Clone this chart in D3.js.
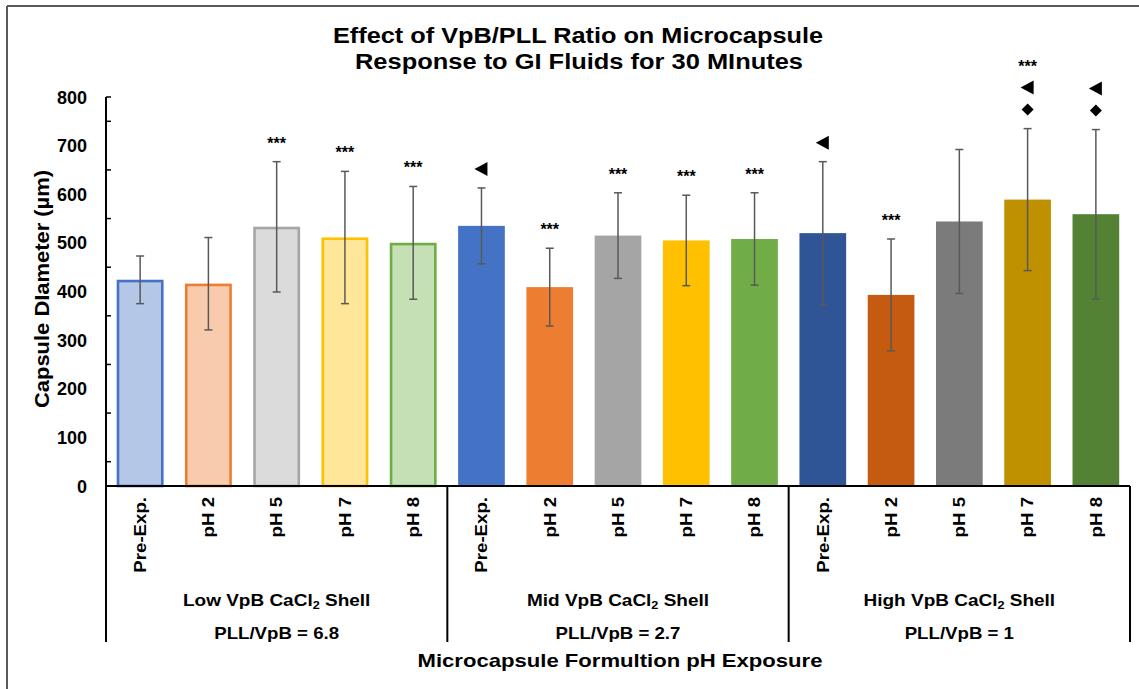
<!DOCTYPE html>
<html lang="en">
<head>
<meta charset="UTF-8"/>
<title>Effect of VpB/PLL Ratio on Microcapsule Response</title>
<script src="https://d3js.org/d3.v7.min.js"></script>
<style>
    body { margin: 0; background: #ffffff; }
    text { font-family: "Liberation Sans", Arial, sans-serif; font-weight: bold; fill: #000; }
</style>
</head>
<body>
<script>
    // values
    var categories = ["Pre-Exp.", "pH 2", "pH 5", "pH 7", "pH 8",
                      "Pre-Exp.", "pH 2", "pH 5", "pH 7", "pH 8",
                      "Pre-Exp.", "pH 2", "pH 5", "pH 7", "pH 8"];
    var groupNames = ["Low VpB CaCl", "Mid VpB CaCl", "High VpB CaCl"];
    var groupRatios = ["PLL/VpB = 6.8", "PLL/VpB = 2.7", "PLL/VpB = 1"];
    var means = [424, 416, 533, 511, 500,
                 535, 409, 515, 505, 508,
                 520, 393, 544, 589, 559];
    var sd = [49, 95, 134, 136, 116,
              78, 80, 88, 93, 95,
              147, 115, 148, 146, 174];
    var sig = [[], [], ["***"], ["***"], ["***"],
               ["tri"], ["***"], ["***"], ["***"], ["***"],
               ["tri"], ["***"], [], ["dia", "tri", "***"], ["dia", "tri"]];
    var yTicks = [0, 100, 200, 300, 400, 500, 600, 700, 800];

    var fills = ["#b4c7e7", "#f8cbad", "#dbdbdb", "#ffe699", "#c5e0b4",
                 "#4472c4", "#ed7d31", "#a5a5a5", "#ffc000", "#70ad47",
                 "#2f5597", "#c55a11", "#7b7b7b", "#bf9000", "#548235"];
    var strokes = ["#4472c4", "#ed7d31", "#a5a5a5", "#ffc000", "#70ad47"];

    var w = 1139, h = 689;
    var x0 = 106, x1 = 1130, yTop = 97, yBase = 486, boxBottom = 642;

    var svg = d3.select("body").append("svg")
        .attr("width", w)
        .attr("height", h);

    // stretch text a bit wider, the source font runs wider than Arial
    function stretch(sel, k) {
        sel.each(function() {
            var len = this.getComputedTextLength();
            d3.select(this).attr("textLength", len * k).attr("lengthAdjust", "spacingAndGlyphs");
        });
    }

    // outer frame
    svg.append("line").attr("x1", 7).attr("x2", w).attr("y1", 6).attr("y2", 6)
        .attr("stroke", "#595959").attr("stroke-width", 2);
    svg.append("line").attr("x1", 7).attr("x2", 7).attr("y1", 6).attr("y2", h)
        .attr("stroke", "#595959").attr("stroke-width", 2);

    var xScale = d3.scaleBand()
        .domain(d3.range(categories.length))
        .range([x0, x1])
        .paddingInner(0.316)
        .paddingOuter(0.158);

    var yScale = d3.scaleLinear()
        .domain([0, 800])
        .range([yBase, yTop]);

    // title
    var title = svg.append("g");
    title.append("text").attr("x", 578).attr("y", 43).attr("text-anchor", "middle")
        .style("font-size", "21.5px").text("Effect of VpB/PLL Ratio on Microcapsule")
        .attr("textLength", 490).attr("lengthAdjust", "spacingAndGlyphs");
    title.append("text").attr("x", 579).attr("y", 69).attr("text-anchor", "middle")
        .style("font-size", "21.5px").text("Response to GI Fluids for 30 MInutes")
        .attr("textLength", 448).attr("lengthAdjust", "spacingAndGlyphs");

    // bars
    svg.selectAll("rect.bar")
        .data(means)
        .enter()
        .append("rect")
        .attr("class", "bar")
        .attr("x", function(d, i) { return xScale(i) + (i < 5 ? 1.2 : 0); })
        .attr("width", function(d, i) { return xScale.bandwidth() - (i < 5 ? 2.4 : 0); })
        .attr("y", function(d, i) { return yScale(d) + (i < 5 ? 1.2 : 0); })
        .attr("height", function(d, i) { return yBase - yScale(d) - (i < 5 ? 1.2 : 0); })
        .attr("fill", function(d, i) { return fills[i]; })
        .attr("stroke", function(d, i) { return i < 5 ? strokes[i] : "none"; })
        .attr("stroke-width", 2.6);

    // error bars
    var err = svg.append("g").attr("stroke", "#595959").attr("stroke-width", 1.5);
    means.forEach(function(m, i) {
        var cx = xScale(i) + xScale.bandwidth() / 2;
        err.append("line").attr("x1", cx).attr("x2", cx)
            .attr("y1", yScale(m + sd[i])).attr("y2", yScale(m - sd[i]));
        [m + sd[i], m - sd[i]].forEach(function(v) {
            err.append("line").attr("x1", cx - 4).attr("x2", cx + 4)
                .attr("y1", yScale(v)).attr("y2", yScale(v));
        });
    });

    // significance markers, stacked upward from the error bar top
    means.forEach(function(m, i) {
        var cx = xScale(i) + xScale.bandwidth() / 2;
        var yy = yScale(m + sd[i]) - 19;
        sig[i].forEach(function(s) {
            if (s === "***") {
                svg.append("text").attr("x", cx).attr("y", yy + 6)
                    .attr("text-anchor", "middle").style("font-size", "16px").text("***");
            } else if (s === "tri") {
                svg.append("path").attr("d", "M-7,0L6,-7L6,7Z")
                    .attr("transform", "translate(" + cx + "," + yy + ")").attr("fill", "#000");
            } else {
                svg.append("path").attr("d", "M0,-6L6,0L0,6L-6,0Z")
                    .attr("transform", "translate(" + cx + "," + yy + ")").attr("fill", "#000");
            }
            yy -= 22;
        });
    });

    // y axis
    var yAxis = svg.append("g");
    yAxis.append("line").attr("x1", x0).attr("x2", x0).attr("y1", yTop).attr("y2", boxBottom)
        .attr("stroke", "#000").attr("stroke-width", 2);
    yAxis.selectAll("line.minor")
        .data(d3.range(50, 800, 100).concat([800]))
        .enter()
        .append("line")
        .attr("x1", x0).attr("x2", x0 + 5)
        .attr("y1", function(d) { return yScale(d); })
        .attr("y2", function(d) { return yScale(d); })
        .attr("stroke", "#000").attr("stroke-width", 1.5);
    yAxis.selectAll("text")
        .data(yTicks)
        .enter()
        .append("text")
        .attr("x", 87)
        .attr("y", function(d) { return yScale(d) + 6.5; })
        .attr("text-anchor", "end")
        .style("font-size", "18px")
        .text(function(d) { return d; });

    svg.append("text")
        .attr("transform", "translate(49,289) rotate(-90)")
        .attr("text-anchor", "middle")
        .style("font-size", "20.5px")
        .text("Capsule DIameter (\u00b5m)")
        .attr("textLength", 238).attr("lengthAdjust", "spacingAndGlyphs");

    // x axis and category box
    svg.append("line").attr("x1", x0).attr("x2", x1).attr("y1", yBase).attr("y2", yBase)
        .attr("stroke", "#000").attr("stroke-width", 2);
    var gw = (x1 - x0) / 3;
    svg.selectAll("line.sep")
        .data([1, 2, 3])
        .enter()
        .append("line")
        .attr("x1", function(d) { return x0 + gw * d; })
        .attr("x2", function(d) { return x0 + gw * d; })
        .attr("y1", yBase).attr("y2", boxBottom)
        .attr("stroke", "#000").attr("stroke-width", 2);

    svg.selectAll("text.cat")
        .data(categories)
        .enter()
        .append("text")
        .attr("class", "cat")
        .attr("transform", function(d, i) {
            return "translate(" + (xScale(i) + xScale.bandwidth() / 2) + ",497) rotate(-90)";
        })
        .attr("dy", "0.35em")
        .attr("text-anchor", "end")
        .style("font-size", "16.5px")
        .text(function(d) { return d; })
        .call(stretch, 1.13);

    var gl = svg.selectAll("text.grp")
        .data(groupNames)
        .enter()
        .append("text")
        .attr("class", "grp")
        .attr("x", function(d, i) { return x0 + gw * (i + 0.5); })
        .attr("y", 606)
        .attr("text-anchor", "middle")
        .style("font-size", "16.5px");
    gl.append("tspan").text(function(d) { return d; });
    gl.append("tspan").attr("dy", 3).style("font-size", "11px").text("2");
    gl.append("tspan").attr("dy", -3).text(" Shell");
    gl.call(stretch, 1.15);

    svg.selectAll("text.ratio")
        .data(groupRatios)
        .enter()
        .append("text")
        .attr("class", "ratio")
        .attr("x", function(d, i) { return x0 + gw * (i + 0.5); })
        .attr("y", 639)
        .attr("text-anchor", "middle")
        .style("font-size", "16.5px")
        .text(function(d) { return d; })
        .call(stretch, 1.13);

    svg.append("text")
        .attr("x", 620).attr("y", 667)
        .attr("text-anchor", "middle")
        .style("font-size", "19px")
        .text("Microcapsule Formultion pH Exposure")
        .attr("textLength", 405).attr("lengthAdjust", "spacingAndGlyphs");
</script>
</body>
</html>
